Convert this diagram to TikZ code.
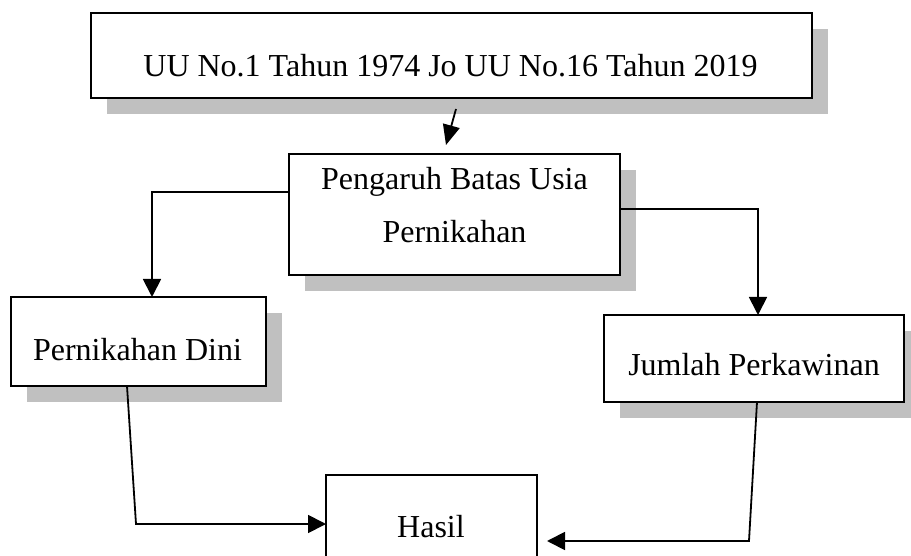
\documentclass[tikz,border=0pt]{standalone}
\usepackage{fontspec}
\setmainfont{Liberation Serif}
\usetikzlibrary{arrows.meta}
\definecolor{shadowgray}{RGB}{192,192,192}
\begin{document}
\begin{tikzpicture}[x=1pt,y=-1pt,
  shadowbox/.style={fill=shadowgray,draw=none,rectangle,inner sep=0pt},
  framebox/.style={fill=white,draw=black,line width=2pt,rectangle,inner sep=0pt},
  label/.style={inner sep=0pt,anchor=base,font=\fontsize{32}{38}\selectfont},
  conn/.style={line width=1.8pt,draw=black},
  arr/.style={conn,-{Triangle[length=18pt,width=18pt]}},
  arrsmall/.style={conn,-{Triangle[length=20pt,width=17pt]}}]
\clip (0,0) rectangle (911,556);
\fill[white] (0,0) rectangle (911,556);
% shadows
\node[shadowbox,minimum width=721pt,minimum height=85pt] (tops) at (467.5,71.5) {};
\node[shadowbox,minimum width=331pt,minimum height=121pt] (mids) at (470.5,230.5) {};
\node[shadowbox,minimum width=255pt,minimum height=89pt] (lefts) at (154.5,357.5) {};
\node[shadowbox,minimum width=300pt,minimum height=87pt] (rights) at (770,374.5) {};
% boxes
\node[framebox,minimum width=721pt,minimum height=85pt] (top) at (451.5,55.5) {};
\node[framebox,minimum width=331pt,minimum height=121pt] (mid) at (454.5,214.5) {};
\node[framebox,minimum width=255pt,minimum height=89pt] (left) at (138.5,341.5) {};
\node[framebox,minimum width=300pt,minimum height=87pt] (right) at (754,358.5) {};
\node[framebox,minimum width=211pt,minimum height=110pt] (hasil) at (431.5,530) {};
% texts
\node[label] (ttop) at (450.5,77) {UU No.1 Tahun 1974 Jo UU No.16 Tahun 2019};
\node[label] (tmid1) at (454.5,190) {Pengaruh Batas Usia};
\node[label] (tmid2) at (454.5,243) {Pernikahan};
\node[label] (tleft) at (137.5,360) {Pernikahan Dini};
\node[label] (tright) at (754,375) {Jumlah Perkawinan};
\node[label] (thasil) at (431,537) {Hasil};
% connector coordinates
\coordinate (a1) at (456,109);
\coordinate (a2) at (446,145);
\coordinate (ml) at (289,192);
\coordinate (lt) at (152,297);
\coordinate (mr) at (620,209);
\coordinate (rt) at (758,315);
\coordinate (lb) at (127,386);
\coordinate (lk) at (136,524);
\coordinate (hl) at (326,524);
\coordinate (rb) at (757,402);
\coordinate (rk) at (749,541);
\coordinate (hr) at (547,541);
% connectors
\draw[arrsmall] (a1) -- (a2);
\draw[arr] (ml) -| (lt);
\draw[arr] (mr) -| (rt);
\draw[arr] (lb) -- (lk) -- (hl);
\draw[arr] (rb) -- (rk) -- (hr);
\end{tikzpicture}
\end{document}
